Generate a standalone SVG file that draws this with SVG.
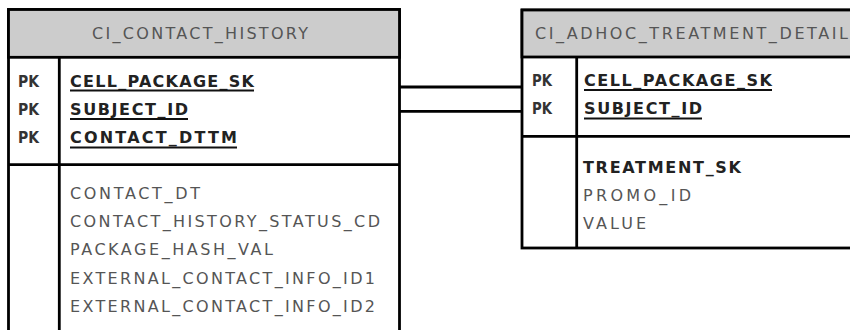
<svg xmlns="http://www.w3.org/2000/svg" width="850" height="330" viewBox="0 0 850 330">
<style>
.box{fill:#fff;stroke:#000;stroke-width:2.8}
.hdr{fill:#cccccc;stroke:#000;stroke-width:2.8}
.ln{stroke:#000;stroke-width:2.8;fill:none}
.ul{stroke:#111;stroke-width:2;fill:none}
text{font-family:"DejaVu Sans","Liberation Sans",sans-serif;font-size:16px}
.title{fill:#555}
.pk{fill:#333;font-weight:bold}
.key{fill:#222;font-weight:bold}
.attr{fill:#555}
</style>
<rect width="850" height="330" fill="#fff"/>
<g id="connectors">
<line class="ln" x1="399.5" y1="87" x2="522" y2="87"/>
<line class="ln" x1="399.5" y1="111.3" x2="522" y2="111.3"/>
</g>
<g id="ci_contact_history">
<rect class="box" x="8.5" y="9.5" width="391" height="340"/>
<rect class="hdr" x="8.5" y="9.5" width="391" height="47.8"/>
<line class="ln" x1="59.3" y1="57.3" x2="59.3" y2="340"/>
<line class="ln" x1="8.5" y1="164.7" x2="399.5" y2="164.7"/>
<text class="title" x="92" y="39" textLength="216" lengthAdjust="spacing">CI_CONTACT_HISTORY</text>
<text class="pk" x="18" y="86.5" textLength="21" lengthAdjust="spacingAndGlyphs">PK</text>
<text class="pk" x="18" y="114.5" textLength="21" lengthAdjust="spacingAndGlyphs">PK</text>
<text class="pk" x="18" y="142.5" textLength="21" lengthAdjust="spacingAndGlyphs">PK</text>
<text class="key" x="70" y="86.5" textLength="184" lengthAdjust="spacing">CELL_PACKAGE_SK</text>
<text class="key" x="70" y="114.5" textLength="118" lengthAdjust="spacing">SUBJECT_ID</text>
<text class="key" x="70" y="142.5" textLength="167" lengthAdjust="spacing">CONTACT_DTTM</text>
<line class="ul" x1="70" y1="90.5" x2="254" y2="90.5"/>
<line class="ul" x1="70" y1="119" x2="188" y2="119"/>
<line class="ul" x1="70" y1="147.5" x2="237" y2="147.5"/>
<text class="attr" x="70" y="198.5" textLength="130" lengthAdjust="spacing">CONTACT_DT</text>
<text class="attr" x="70" y="227" textLength="310" lengthAdjust="spacing">CONTACT_HISTORY_STATUS_CD</text>
<text class="attr" x="70" y="255.3" textLength="203" lengthAdjust="spacing">PACKAGE_HASH_VAL</text>
<text class="attr" x="70" y="283.5" textLength="305" lengthAdjust="spacing">EXTERNAL_CONTACT_INFO_ID1</text>
<text class="attr" x="70" y="311.7" textLength="305" lengthAdjust="spacing">EXTERNAL_CONTACT_INFO_ID2</text>
</g>
<g id="ci_adhoc_treatment_detail">
<rect class="box" x="522" y="10" width="360" height="238"/>
<rect class="hdr" x="522" y="10" width="360" height="47"/>
<line class="ln" x1="576.7" y1="57" x2="576.7" y2="248"/>
<line class="ln" x1="522" y1="136.3" x2="882" y2="136.3"/>
<text class="title" x="535" y="39" textLength="313" lengthAdjust="spacing">CI_ADHOC_TREATMENT_DETAIL</text>
<text class="pk" x="532" y="86" textLength="20" lengthAdjust="spacingAndGlyphs">PK</text>
<text class="pk" x="532" y="114" textLength="20" lengthAdjust="spacingAndGlyphs">PK</text>
<text class="key" x="584" y="86" textLength="188" lengthAdjust="spacing">CELL_PACKAGE_SK</text>
<text class="key" x="584" y="114" textLength="118" lengthAdjust="spacing">SUBJECT_ID</text>
<line class="ul" x1="584" y1="90" x2="772" y2="90"/>
<line class="ul" x1="584" y1="118.5" x2="702" y2="118.5"/>
<text class="key" x="583" y="172.7" textLength="158" lengthAdjust="spacing">TREATMENT_SK</text>
<text class="attr" x="583" y="200.7" textLength="108" lengthAdjust="spacing">PROMO_ID</text>
<text class="attr" x="583" y="229" textLength="63" lengthAdjust="spacing">VALUE</text>
</g>
</svg>
